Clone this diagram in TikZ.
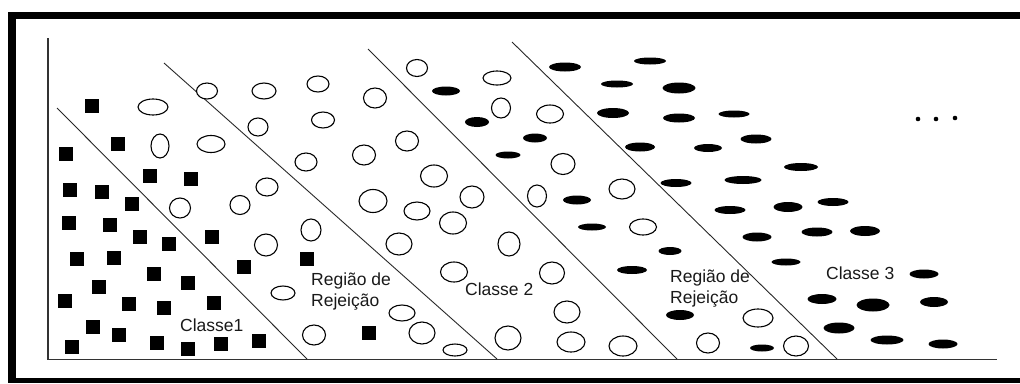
\documentclass[tikz,border=0pt]{standalone}
\usepackage{fontspec}
\setmainfont{Liberation Sans}
\begin{document}
\begin{tikzpicture}[x=1pt,y=-1pt,
  sq/.style={fill=black},
  oel/.style={draw=black,line width=1.1pt,fill=white},
  fel/.style={fill=black},
  sep/.style={draw=black!85,line width=0.9pt},
  axis/.style={draw=black!80,line width=1.3pt},
  lbl/.style={inner sep=0pt,font=\fontsize{17.5}{21}\selectfont,align=left,text=black!90}]
\useasboundingbox (0,0) rectangle (1020,383);
% frame
\fill[black] (8,11.7) rectangle (1020,19.4);
\fill[black] (8,11.7) rectangle (16,383);
\fill[black] (8,378.3) rectangle (1020,383);
% axes
\draw[axis] (48,38) -- (48,359.5) -- (997,359.5);
% separating lines
\draw[sep] (57,108) -- (307,359);
\draw[sep] (164,63) -- (497,359);
\draw[sep] (368,49) -- (677,359);
\draw[sep] (512,42) -- (837,359);
% squares
\foreach \x/\y in {92/106,118/144,66/154,150/176,191/179,70/190,102/192,132/204,
  69/223,110/225,140/237,169/244,212/237,77/259,114/258,244/267,307/259,154/274,
  188/283,99/287,65/301,129/304,164/308,214/303,93/327,119/335,157/343,188/349,
  221/344,259/341,72/347,369/333}
  \fill[sq] (\x-6.7,\y-6.7) rectangle (\x+6.7,\y+6.7);
% open ellipses
\foreach \x/\y/\w/\h in {153/107/31/17,207/91/22/17,264/91/25/17,318/84/23/17,
  323/120/24/17,258/127/21/19,160/146/19/25,211/144/29/18,306/162/23/19,
  267/187/23/19,180/208/22/21,240/205/21/20,311/230/21/23,266/245/24/23,
  283/293/25/15,314/335/24/21,417/68/22/18,497/78/29/15,375/98/24/21,
  501/108/20/21,550/114/28/19,407/141/24/21,364/155/24/21,563/164/25/22,
  434/176/28/23,622/189/27/21,373/201/29/24,417/211/27/19,472/197/25/23,
  453/223/28/23,537/196/20/23,643/227/28/17,399/244/27/23,509/244/23/25,
  454/272/28/21,552/273/26/23,402/313/27/17,567/312/27/23,422/333/27/23,
  508/338/27/25,571/342/29/21,623/346/29/21,455/350/25/13,758/318/31/19,
  708/343/24/21,796/346/26/21}
  \draw[oel] (\x,\y) ellipse [x radius=\w*0.5-0.5, y radius=\h*0.5-0.5];
% filled ellipses
\foreach \x/\y/\w/\h in {446/91/28/9,477/122/24/10,565/67/32/9,650/61/32/7,
  617/84/32/7,613/113/32/10,535/138/24/9,508/155/25/7,640/147/30/9,577/200/28/9,
  592/227/28/7,632/270/30/8,679/88/33/11,679/118/32/9,734/114/31/7,708/148/28/8,
  756/139/31/9,801/167/34/8,676/183/31/8,743/180/37/8,833/202/31/8,730/210/31/8,
  788/207/29/10,757/237/29/9,817/232/31/9,865/231/30/10,670/251/23/8,786/262/29/7,
  924/274/29/9,822/299/29/10,873/305/33/13,934/302/28/10,680/315/28/10,
  839/328/31/11,887/340/33/9,943/344/29/9,762/348/24/7}
  \fill[fel] (\x,\y) ellipse [x radius=\w*0.5, y radius=\h*0.5];
% dots
\foreach \x/\y in {918/119,936/119,955/118}
  \fill (\x,\y) circle [radius=2.3];
% labels
\node[lbl,anchor=base west] (c1) at (180,331) {Classe1};
\node[lbl,anchor=base west] (r1) at (311,306) {Região de\\Rejeição};
\node[lbl,anchor=base west] (c2) at (465,295) {Classe 2};
\node[lbl,anchor=base west] (r2) at (670,303) {Região de\\Rejeição};
\node[lbl,anchor=base west] (c3) at (826,279) {Classe 3};
\end{tikzpicture}
\end{document}
